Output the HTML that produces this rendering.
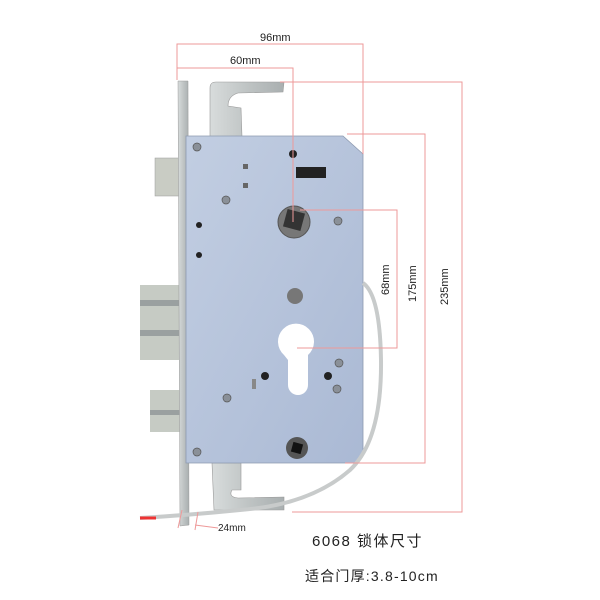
<!DOCTYPE html>
<html><head><meta charset="utf-8"><style>
html,body{margin:0;padding:0;background:#fff;width:600px;height:600px;overflow:hidden}
svg{display:block}
text{font-family:"Liberation Sans","Noto Sans CJK SC",sans-serif;fill:#222}
</style></head><body>
<svg width="600" height="600" viewBox="0 0 600 600" xmlns="http://www.w3.org/2000/svg">
<defs>
<linearGradient id="body" x1="0" y1="0" x2="1" y2="1">
<stop offset="0" stop-color="#c2cee2"/><stop offset="1" stop-color="#aab9d4"/></linearGradient>
<linearGradient id="steel" x1="0" y1="0" x2="1" y2="0">
<stop offset="0" stop-color="#d8dcdc"/><stop offset="0.5" stop-color="#bfc4c4"/><stop offset="1" stop-color="#a9afb0"/></linearGradient>
</defs>
<rect x="155" y="158" width="24" height="38" fill="#c9ccc4" stroke="#999" stroke-width="0.5"/>
<rect x="140" y="285" width="40" height="75" fill="#c6cbc4"/>
<rect x="140" y="300" width="40" height="6" fill="#9aa0a0"/>
<rect x="140" y="330" width="40" height="6" fill="#9aa0a0"/>
<rect x="150" y="390" width="30" height="42" fill="#c6cbc4"/>
<rect x="150" y="410" width="30" height="5" fill="#9aa0a0"/>
<path d="M210 137 L210 88 Q210 82 216 82 L284 82 L283 92 L238 93 Q228 96 228 106 L241 108 L242 137Z" fill="url(#steel)" stroke="#999" stroke-width="0.6"/>
<path d="M212 463 L241 463 L241 490 L232 490 Q228 497 238 498 L284 497 L284 510 L214 510 Z" fill="url(#steel)" stroke="#999" stroke-width="0.6"/>
<path d="M178 81 L188 81 L189 525 L180 526 Z" fill="url(#steel)" stroke="#999" stroke-width="0.5"/>
<path d="M186 136 L343 136 L363 154 L363 455 L355 463 L186 463 Z" fill="url(#body)" stroke="#8d9ab0" stroke-width="0.8"/>
<path d="M363 283 Q380 295 381 360 Q382 440 350 470 Q310 505 240 510 Q190 515 140 518" fill="none" stroke="#c8cbcb" stroke-width="4"/>
<path d="M140 518 L156 518" stroke="#e33" stroke-width="3"/>
<g fill="#8a9098" stroke="#555" stroke-width="0.7">
<circle cx="197" cy="147" r="4"/><circle cx="226" cy="200" r="4"/><circle cx="338" cy="221" r="4"/>
<circle cx="339" cy="363" r="4"/><circle cx="337" cy="389" r="4"/><circle cx="227" cy="398" r="4"/><circle cx="197" cy="452" r="4"/>
</g>
<g fill="#222">
<circle cx="293" cy="154" r="4"/><circle cx="199" cy="225" r="3"/><circle cx="199" cy="255" r="3"/>
<circle cx="265" cy="376" r="4"/><circle cx="328" cy="376" r="4"/>
</g>
<rect x="243" y="164" width="5" height="5" fill="#666"/><rect x="243" y="183" width="5" height="5" fill="#666"/>
<rect x="296" y="167" width="30" height="11" fill="#222"/>
<rect x="252" y="379" width="4" height="10" fill="#888"/>
<circle cx="295" cy="296" r="8" fill="#777"/>
<circle cx="294" cy="222" r="16" fill="#777" stroke="#555"/>
<rect x="285" y="211" width="18" height="18" fill="#333" transform="rotate(15 294 220)"/>
<path d="M284 355 A18 18 0 1 1 308 355 L308 385 A10 10 0 0 1 288 385 L288 360Z" fill="#fff"/>
<circle cx="297" cy="448" r="11" fill="#555"/><rect x="292" y="443" width="10" height="10" fill="#111" transform="rotate(15 297 448)"/>
<g fill="none" stroke="#e99" stroke-width="1">
<path d="M177 80 L177 44 L363 44 L363 154"/>
<path d="M177 80 L177 68 L293 68 L293 222"/>
<path d="M280 82 L462 82 L462 512 L292 512"/>
<path d="M347 134 L425 134 L425 463 L345 463"/>
<path d="M300 210 L397 210 L397 348 L297 348"/>
<path d="M182 510 L178 528 M198 512 L195 530 M195 525 L218 528"/>
</g>
<text x="260" y="41" font-size="11">96mm</text>
<text x="230" y="64" font-size="11">60mm</text>
<text x="218" y="531" font-size="10">24mm</text>
<text font-size="11" transform="translate(389 295) rotate(-90)">68mm</text>
<text font-size="11" transform="translate(416 302) rotate(-90)">175mm</text>
<text font-size="11" transform="translate(448 305) rotate(-90)">235mm</text>
<text x="312" y="546" font-size="15" letter-spacing="1.5">6068  锁体尺寸</text>
<text x="305" y="581" font-size="14" letter-spacing="1.2">适合门厚:3.8-10cm</text>
</svg>
</body></html>
